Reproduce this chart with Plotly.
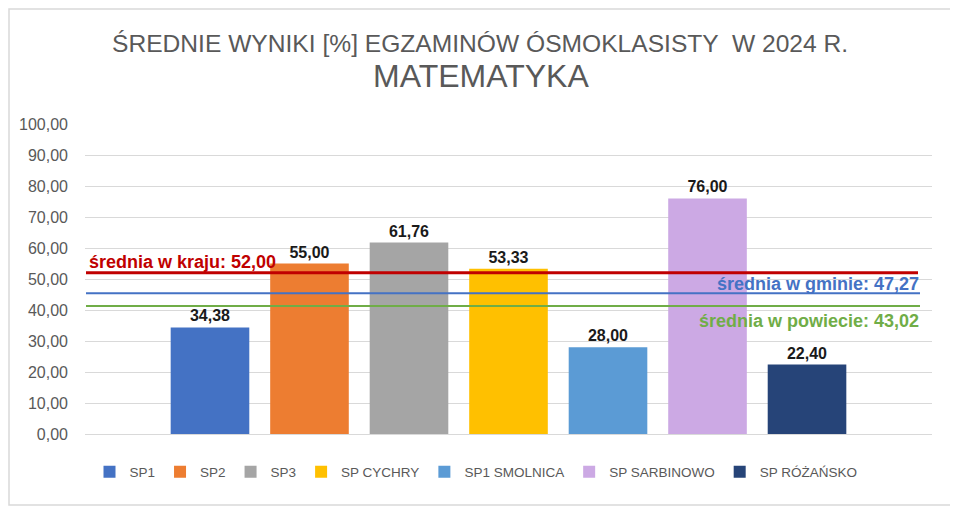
import plotly.graph_objects as go

# Data
schools = ["SP1", "SP2", "SP3", "SP CYCHRY", "SP1 SMOLNICA", "SP SARBINOWO", "SP RÓŻAŃSKO"]
scores = [34.38, 55.00, 61.76, 53.33, 28.00, 76.00, 22.40]
colors = ["#4472C4", "#ED7D31", "#A5A5A5", "#FFC000", "#5B9BD5", "#CCA9E4", "#264478"]

avg_names = ["średnia w kraju: 52,00", "średnia w gminie: 47,27", "średnia w powiecie: 43,02"]
avg_levels = [52.0, 45.4, 41.3]          # where the lines sit in the picture
avg_colors = ["#C00000", "#4472C4", "#70AD47"]

# page body has an 8px margin, so the figure is shifted by OFF
OFF = 8
W, H = 958 - OFF, 507 - OFF
L, R, T, B = 85 - OFF, 26, 124 - OFF, 73
pw, ph = W - L - R, H - T - B

# convert screen pixels (as in the reference) to paper coords
def px_x(x):
    return (x - OFF - L) / pw

def px_y(y):
    return (H - B - (y - OFF)) / ph

fig = go.Figure()
for name, val, col in zip(schools, scores, colors):
    fig.add_trace(go.Bar(x=[name], y=[val], name=name,
                         marker=dict(color=col, line=dict(width=0)),
                         width=0.79,
                         texttemplate="<b>%{y:.2f}</b>", textposition="outside",
                         textfont=dict(family="Liberation Sans", size=16, color="#1a1a1a"),
                         cliponaxis=False))

# average lines
shapes = []
ends = [918, 920, 920]
widths = [3, 2, 2]
for lvl, col, e, w in zip(avg_levels, avg_colors, ends, widths):
    shapes.append(dict(type="line", xref="paper", yref="y", x0=px_x(86), x1=px_x(e),
                       y0=lvl, y1=lvl, line=dict(color=col, width=w), layer="above"))
# outer frame
shapes.append(dict(type="rect", xref="paper", yref="paper",
                   x0=(1 - L) / pw, x1=(946 - L) / pw,
                   y0=(H - B - 497) / ph, y1=(H - B - 1) / ph,
                   line=dict(color="#D9D9D9", width=1.5), layer="below"))

lab_font = "Liberation Sans"
annotations = [
    dict(text="<b>" + avg_names[0] + "</b>", xref="paper", yref="paper",
         x=px_x(87), y=px_y(262), xanchor="left", yanchor="middle", showarrow=False,
         font=dict(family=lab_font, size=18, color=avg_colors[0])),
    dict(text="<b>" + avg_names[1] + "</b>", xref="paper", yref="paper",
         x=px_x(921), y=px_y(284), xanchor="right", yanchor="middle", showarrow=False,
         font=dict(family=lab_font, size=18, color=avg_colors[1])),
    dict(text="<b>" + avg_names[2] + "</b>", xref="paper", yref="paper",
         x=px_x(921), y=px_y(321), xanchor="right", yanchor="middle", showarrow=False,
         font=dict(family=lab_font, size=18, color=avg_colors[2])),
    dict(text="ŚREDNIE WYNIKI [%] EGZAMINÓW ÓSMOKLASISTY  W 2024 R.", xref="paper", yref="paper",
         x=px_x(480), y=px_y(43), xanchor="center", yanchor="middle", showarrow=False,
         font=dict(family=lab_font, size=24.6, color="#595959")),
    dict(text="MATEMATYKA", xref="paper", yref="paper",
         x=px_x(481), y=px_y(76), xanchor="center", yanchor="middle", showarrow=False,
         font=dict(family=lab_font, size=32, color="#595959")),
]

fig.update_layout(
    width=W, height=H,
    margin=dict(l=L, r=R, t=T, b=B),
    paper_bgcolor="white", plot_bgcolor="white",
    barmode="overlay",
    separators=", ",
    shapes=shapes,
    annotations=annotations,
    showlegend=True,
    legend=dict(orientation="h", x=px_x(476), xanchor="center", y=px_y(472), yanchor="middle",
                itemwidth=30,
                font=dict(family=lab_font, size=13.5, color="#595959"),
                itemclick=False),
    xaxis=dict(type="category", categoryorder="array", categoryarray=schools,
               range=[-1.256, 7.256], showticklabels=False, showgrid=False,
               zeroline=False, showline=False, ticks=""),
    yaxis=dict(range=[0, 100], dtick=10, tickformat=".2f",
               gridcolor="#D9D9D9", gridwidth=1, zeroline=True, zerolinecolor="#D9D9D9",
               zerolinewidth=1, showline=False, ticklabelstandoff=16,
               tickfont=dict(family=lab_font, size=16, color="#595959")),
)

fig.write_html("out.html")
